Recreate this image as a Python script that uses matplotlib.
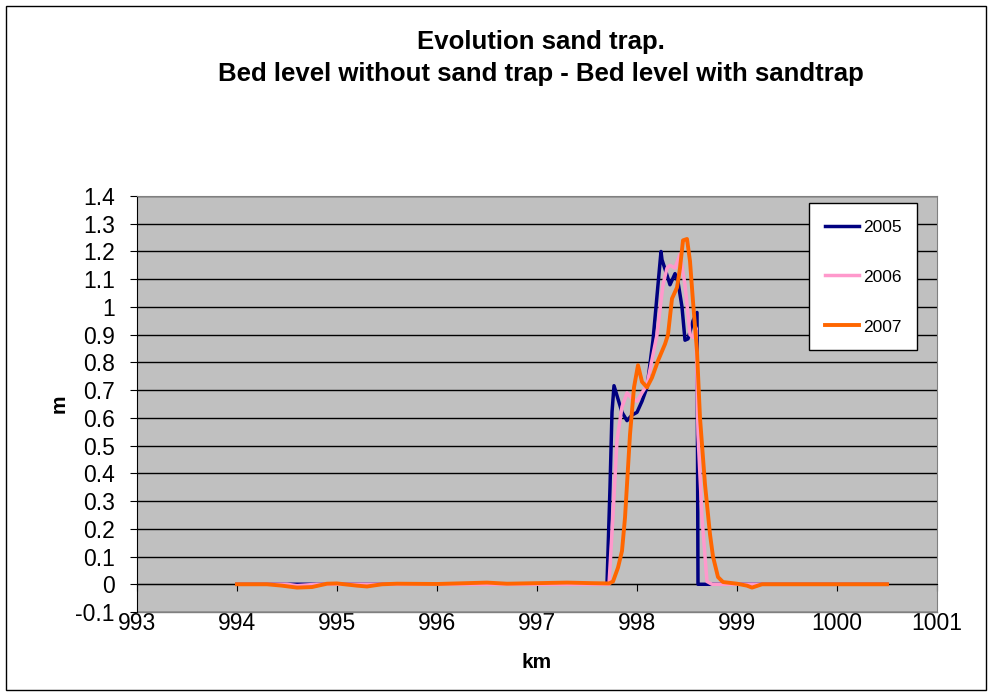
import matplotlib
matplotlib.use("Agg")
import matplotlib.pyplot as plt
from matplotlib.patches import Rectangle

plt.rcParams['font.family'] = ['Liberation Sans', 'DejaVu Sans']

title = "Evolution sand trap.\nBed level without sand trap - Bed level with sandtrap"
years = ["2005", "2006", "2007"]
colors = ["#000080", "#FF99CC", "#FF6600"]

km_2005 = [994.0, 994.5, 995.0, 995.5, 996.0, 996.5, 997.0, 997.5, 997.70, 997.73,
           997.75, 997.77, 997.80, 997.85, 997.90, 997.95, 998.00, 998.05, 998.10, 998.16,
           998.21, 998.24, 998.25, 998.28, 998.33, 998.38, 998.41, 998.45, 998.48, 998.51,
           998.56, 998.60, 998.605, 998.61, 998.7, 999.0, 999.5, 1000.0, 1000.5]
m_2005 = [0, 0, 0, 0, 0, 0, 0, 0, 0, 0.35,
          0.62, 0.716, 0.68, 0.62, 0.59, 0.61, 0.62, 0.66, 0.71, 0.88,
          1.08, 1.20, 1.17, 1.137, 1.08, 1.12, 1.09, 1.00, 0.88, 0.885,
          0.95, 0.98, 0.5, 0, 0, 0, 0, 0, 0]

km_2006 = [994.0, 994.5, 994.6, 994.8, 995.0, 995.5, 996.0, 996.5, 997.0, 997.5,
           997.72, 997.76, 997.80, 997.85, 997.90, 997.95, 998.00, 998.10, 998.20, 998.26,
           998.30, 998.33, 998.38, 998.43, 998.48, 998.53, 998.56, 998.59, 998.61, 998.65,
           998.70, 998.75, 999.0, 999.5, 1000.0, 1000.5]
m_2006 = [0, 0, -0.005, 0, 0, 0, 0, 0, 0, 0,
          0, 0.25, 0.52, 0.64, 0.69, 0.67, 0.66, 0.72, 0.90, 1.08,
          1.14, 1.15, 1.14, 1.19, 1.08, 0.90, 0.89, 0.925, 0.54, 0.24,
          0.01, 0, 0, 0, 0, 0]

km_2007 = [994.0, 994.3, 994.45, 994.6, 994.75, 994.9, 995.0, 995.2, 995.3, 995.45,
           995.6, 996.0, 996.3, 996.5, 996.7, 997.0, 997.3, 997.55, 997.72, 997.76,
           997.81, 997.85, 997.88, 997.91, 997.93, 997.97, 998.01, 998.05, 998.10, 998.15,
           998.21, 998.28, 998.31, 998.35, 998.40, 998.43, 998.46, 998.50, 998.53, 998.56,
           998.60, 998.63, 998.68, 998.73, 998.76, 998.81, 998.86, 999.0, 999.1, 999.15,
           999.25, 999.5, 1000.0, 1000.5]
m_2007 = [0, 0, -0.005, -0.012, -0.01, 0.002, 0.003, -0.005, -0.008, 0.0,
          0.002, 0.001, 0.004, 0.006, 0.002, 0.004, 0.006, 0.004, 0.003, 0.01,
          0.06, 0.12, 0.24, 0.42, 0.54, 0.71, 0.79, 0.73, 0.71, 0.745,
          0.806, 0.866, 0.90, 1.03, 1.07, 1.14, 1.24, 1.245, 1.165, 1.02,
          0.84, 0.60, 0.36, 0.18, 0.10, 0.026, 0.008, 0.002, -0.005, -0.012,
          0, 0, 0, 0]

x_ticks = list(range(993, 1002))
y_ticks = [round(-0.1 + 0.1 * i, 1) for i in range(16)]
y_labels = ["-0.1", "0", "0.1", "0.2", "0.3", "0.4", "0.5", "0.6", "0.7", "0.8",
            "0.9", "1", "1.1", "1.2", "1.3", "1.4"]

fig = plt.figure(figsize=(9.92, 6.96), dpi=100)
ax = fig.add_axes([137 / 992, 84 / 696, 800 / 992, 416 / 696])
ax.set_facecolor("#C0C0C0")

# rahmen um das ganze diagramm
fig.patches.append(Rectangle((6 / 992, 6 / 696), 980 / 992, 684 / 696, transform=fig.transFigure,
                             fill=False, edgecolor="black", linewidth=1))

for y in y_ticks:
    ax.axhline(y, color="black", linewidth=1, zorder=1)

series = [(km_2005, m_2005, 2.5), (km_2006, m_2006, 2.5), (km_2007, m_2007, 2.8)]
for (k, m, lw), yr, c in zip(series, years, colors):
    ax.plot(k, m, color=c, linewidth=lw, label=yr, zorder=3)

ax.set_xlim(993, 1001)
ax.set_ylim(-0.1, 1.4)
ax.set_xticks(x_ticks)
ax.set_yticks(y_ticks)
ax.set_yticklabels(y_labels)

ax.spines["bottom"].set_position(("data", 0))
ax.spines["bottom"].set_color("black")
ax.spines["left"].set_color("black")
ax.spines["top"].set_color("#808080")
ax.spines["right"].set_color("#808080")
ax.axhline(-0.1, color="#808080", linewidth=1, clip_on=False)

ax.tick_params(axis="x", direction="out", length=5, pad=15, labelsize=16.5, color="black")
ax.tick_params(axis="y", direction="out", length=5, pad=11, labelsize=16.5, color="black")

ax.set_xlabel("km", fontsize=15, fontweight="bold")
ax.set_ylabel("m", fontsize=15, fontweight="bold")
ax.xaxis.set_label_coords(0.5, -0.098)
ax.yaxis.set_label_coords(-0.085, 0.5)

fig.text(0.5455, 0.957, title, ha="center", va="top", fontsize=18.5, fontweight="bold",
         linespacing=1.4)

leg = ax.legend(loc="upper right", bbox_to_anchor=(0.975, 0.983), fontsize=12.5,
                frameon=True, fancybox=False, edgecolor="black", framealpha=1,
                labelspacing=1.9, handlelength=2.0, handleheight=1.0, handletextpad=0.2,
                borderpad=0.9, borderaxespad=0)
leg.get_frame().set_linewidth(1)

fig.savefig("out.png", dpi=100)
